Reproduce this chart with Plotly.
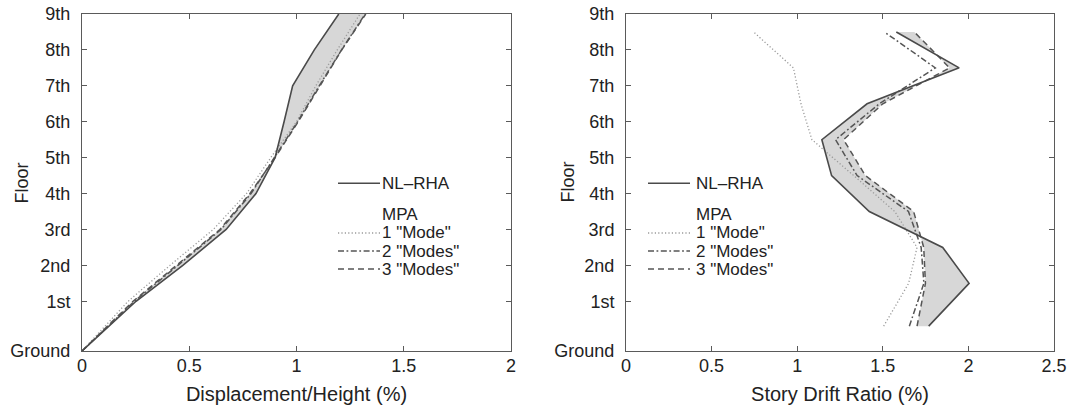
import plotly.graph_objects as go

# ---------------- data ----------------
floor_labels = ["Ground", "1st", "2nd", "3rd", "4th", "5th", "6th", "7th", "8th", "9th"]
floor_heights = [0, 18, 31, 44, 57, 70, 83, 96, 109, 122]          # ft
story_mid = [9, 24.5, 37.5, 50.5, 63.5, 76.5, 89.5, 102.5, 115.5]   # ft (mid-height of stories 1..9)

# Displacement/Height (%) at each floor level (Ground..9th)
disp_nlrha = [0, 0.252, 0.470, 0.672, 0.811, 0.900, 0.942, 0.982, 1.083, 1.197]
disp_mpa1 = [0, 0.215, 0.410, 0.612, 0.767, 0.880, 1.000, 1.090, 1.190, 1.296]
disp_mpa2 = [0, 0.244, 0.447, 0.648, 0.788, 0.897, 1.005, 1.106, 1.210, 1.320]
disp_mpa3 = [0, 0.238, 0.440, 0.643, 0.783, 0.900, 1.008, 1.111, 1.211, 1.323]

# Story drift ratio (%) for stories 1..9
drift_nlrha = [1.768, 2.004, 1.850, 1.421, 1.201, 1.144, 1.408, 1.946, 1.579]
drift_mpa1 = [1.505, 1.651, 1.700, 1.570, 1.330, 1.086, 1.022, 0.978, 0.745]
drift_mpa2 = [1.655, 1.740, 1.724, 1.650, 1.350, 1.224, 1.480, 1.807, 1.509]
drift_mpa3 = [1.700, 1.749, 1.739, 1.680, 1.398, 1.271, 1.500, 1.890, 1.684]

x_ticks_left = [0, 0.5, 1, 1.5, 2]
x_ticks_right = [0, 0.5, 1, 1.5, 2, 2.5]

legend_names = ["NL\u2013RHA", "MPA", '1 "Mode"', '2 "Modes"', '3 "Modes"']

# ---------------- styles ----------------
W, H = 1075, 410
FONT = "Liberation Sans, Arial, Helvetica, sans-serif"
FS = 18
FS_TITLE = 20
FS_LEG = 17
TXT = "#222222"
AX = "#5a5a5a"
FILL = "#d7d7d7"
styles = {
    "nlrha": dict(color="#4a4a4a", width=1.6, dash="solid"),
    "mpa1": dict(color="#9a9a9a", width=1.3, dash="1.2px,2.2px"),
    "mpa2": dict(color="#555555", width=1.5, dash="6px,2.5px,1.8px,2.5px"),
    "mpa3": dict(color="#555555", width=1.5, dash="6px,4px"),
}

def px_x(p):
    return p / W

def px_y(p):
    return 1 - p / H

fig = go.Figure()

panels = [
    ("x", "y", floor_heights, disp_nlrha, disp_mpa1, disp_mpa2, disp_mpa3),
    ("x2", "y2", story_mid, drift_nlrha, drift_mpa1, drift_mpa2, drift_mpa3),
]
for xa, ya, hts, nl, m1, m2, m3 in panels:
    # shaded band between NL-RHA and 3-mode MPA
    fig.add_trace(go.Scatter(
        x=list(nl) + list(m3)[::-1], y=list(hts) + list(hts)[::-1],
        fill="toself", fillcolor=FILL, line=dict(width=0), mode="lines",
        hoverinfo="skip", showlegend=False, xaxis=xa, yaxis=ya))
    for key, vals in (("mpa1", m1), ("mpa2", m2), ("mpa3", m3), ("nlrha", nl)):
        fig.add_trace(go.Scatter(
            x=vals, y=hts, mode="lines", line=styles[key],
            showlegend=False, xaxis=xa, yaxis=ya, cliponaxis=True))

# ---------------- axes ----------------
ydom = [px_y(351), px_y(14)]
common = dict(showgrid=False, zeroline=False, showline=True, mirror="ticks",
              linecolor=AX, linewidth=1, ticks="inside", ticklen=5, tickcolor=AX,
              automargin=False,
              tickfont=dict(family=FONT, size=FS, color=TXT))
fig.update_layout(
    xaxis=dict(domain=[px_x(82), px_x(511)], range=[0, 2], tickvals=x_ticks_left,
               ticktext=[f"{v:g}" for v in x_ticks_left], anchor="y",
               ticklabelstandoff=-2,
               title=dict(text="Displacement/Height (%)", standoff=12,
                          font=dict(family=FONT, size=FS_TITLE, color=TXT)), **common),
    yaxis=dict(domain=ydom, range=[0, 122], tickvals=floor_heights, ticktext=floor_labels,
               anchor="x", ticklabelstandoff=7, **common),
    xaxis2=dict(domain=[px_x(626), px_x(1054)], range=[0, 2.5], tickvals=x_ticks_right,
                ticktext=[f"{v:g}" for v in x_ticks_right], anchor="y2",
                ticklabelstandoff=-2,
                title=dict(text="Story Drift Ratio (%)", standoff=12,
                           font=dict(family=FONT, size=FS_TITLE, color=TXT)), **common),
    yaxis2=dict(domain=ydom, range=[0, 122], tickvals=floor_heights, ticktext=floor_labels,
                anchor="x2", ticklabelstandoff=7, **common),
)

# ---------------- "Floor" titles ----------------
annotations = []
for cx in (22, 568):
    annotations.append(dict(text="Floor", x=px_x(cx), y=px_y(182.5), xref="paper", yref="paper",
                            textangle=-90, showarrow=False, xanchor="center", yanchor="middle",
                            font=dict(family=FONT, size=FS, color=TXT)))

# ---------------- legends (keys + labels) ----------------
shapes = []
row_y = [183.3, 214, 233, 251, 269]
row_keys = ["nlrha", None, "mpa1", "mpa2", "mpa3"]
for (lx0, lx1, tx) in ((338, 380, 381), (648, 690, 695)):
    for name, key, ry in zip(legend_names, row_keys, row_y):
        if key is not None:
            st = styles[key]
            shapes.append(dict(type="line", xref="paper", yref="paper",
                               x0=px_x(lx0), x1=px_x(lx1), y0=px_y(ry), y1=px_y(ry),
                               line=dict(color=st["color"], width=st["width"], dash=st["dash"])))
        annotations.append(dict(text=name, x=px_x(tx), y=px_y(ry), xref="paper", yref="paper",
                                showarrow=False, xanchor="left", yanchor="middle", borderpad=0,
                                font=dict(family=FONT, size=FS_LEG, color=TXT)))

fig.update_layout(
    width=W, height=H, autosize=False,
    margin=dict(l=0, r=0, t=0, b=0),
    paper_bgcolor="white", plot_bgcolor="white",
    showlegend=False,
    annotations=annotations, shapes=shapes,
    font=dict(family=FONT, size=FS, color=TXT),
)

fig.write_html("out.html",
               config={"displayModeBar": False},
               post_script="document.body.style.margin='0';document.body.style.padding='0';"
                           "document.body.style.overflow='hidden';")
